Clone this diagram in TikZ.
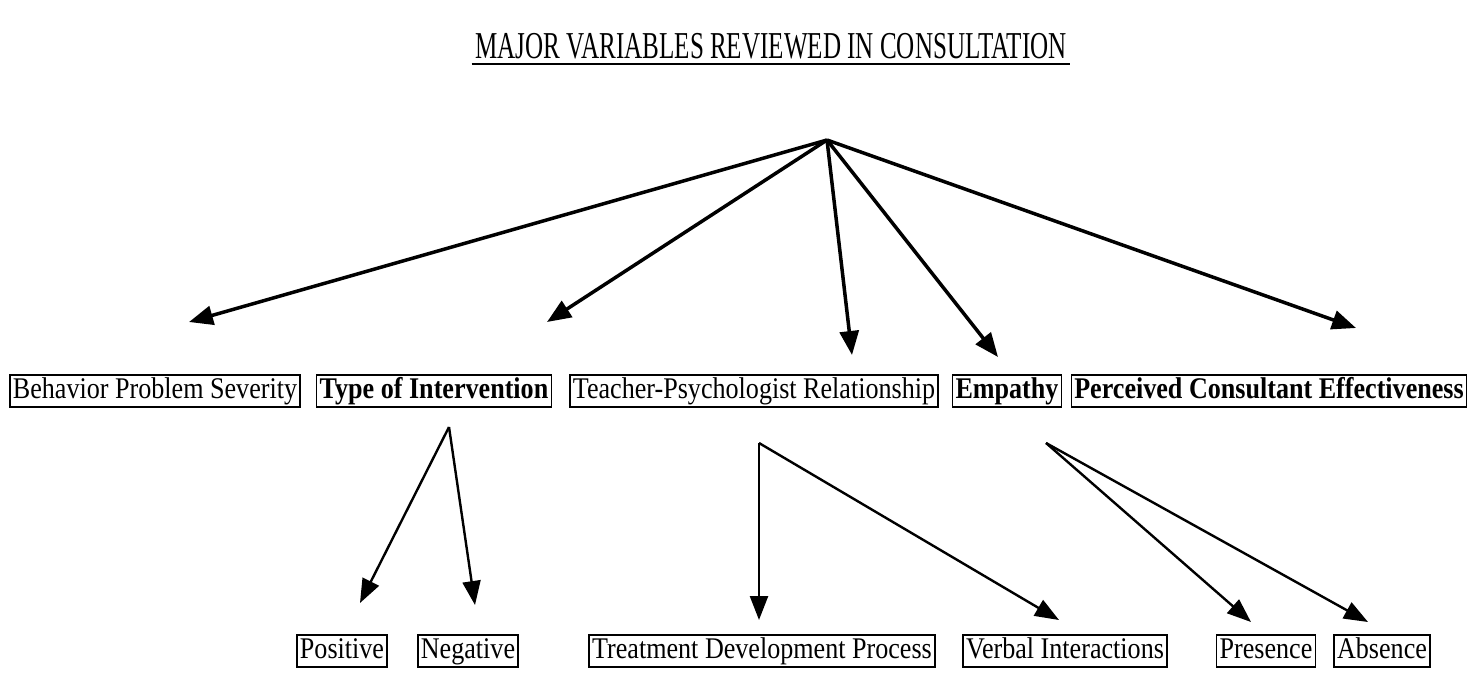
\documentclass[tikz,border=0pt]{standalone}
\usepackage{fontspec}
\setmainfont[FakeStretch=0.87]{Liberation Serif}
\newfontfamily\headfont[FakeStretch=0.66]{Liberation Serif}
\usetikzlibrary{arrows.meta}
\tikzset{
    every node/.style={align=center,},
    varbox/.style={draw,rectangle,line width=1.4pt,inner xsep=3pt,inner ysep=2pt,text height=21pt,text depth=7pt,font=\fontsize{30}{32}\selectfont,},
    keyvarbox/.style={varbox,font=\fontsize{30}{32}\selectfont\bfseries,},
    link/.style={line width=3.5pt,line join=round,-{Triangle[length=24pt,width=19pt]},},
    sublink/.style={line width=2.4pt,line join=round,-{Triangle[length=24pt,width=18pt]},},
}

\begin{document}
\begin{tikzpicture}[x=1pt,y=-1pt]
        \useasboundingbox (0,0) rectangle (1477,678);

        \node[font=\headfont\fontsize{38}{42}\selectfont] (title) at (771,46) {MAJOR VARIABLES REVIEWED IN CONSULTATION};
        \draw[line width=2pt] ([yshift=-6pt]title.base west) -- ([yshift=-6pt]title.base east);

        \coordinate (top) at (827,140);

        \node[varbox] (severity) at (155,391) {Behavior Problem Severity};
        \node[keyvarbox] (intervention) at (434,391) {Type of Intervention};
        \node[varbox] (relationship) at (754,391) {Teacher-Psychologist Relationship};
        \node[keyvarbox] (empathy) at (1007,391) {Empathy};
        \node[keyvarbox] (effectiveness) at (1269,391) {Perceived Consultant Effectiveness};

        \coordinate (severity_in) at (189,322);
        \coordinate (intervention_in) at (547,322);
        \coordinate (relationship_in) at (852,355);
        \coordinate (empathy_in) at (998,357);
        \coordinate (effectiveness_in) at (1356,328);

        \draw[link] (top) to (severity_in);
        \draw[link] (top) to (intervention_in);
        \draw[link] (top) to (relationship_in);
        \draw[link] (top) to (empathy_in);
        \draw[link] (top) to (effectiveness_in);

        \coordinate (intervention_out) at (449,427);
        \coordinate (relationship_out) at (759,443);
        \coordinate (empathy_out) at (1046,443);

        \node[varbox] (positive) at (342,651) {Positive};
        \node[varbox] (negative) at (468,651) {Negative};
        \node[varbox] (treatment) at (762,651) {Treatment Development Process};
        \node[varbox] (verbal) at (1065,651) {Verbal Interactions};
        \node[varbox] (presence) at (1266,651) {Presence};
        \node[varbox] (absence) at (1382,651) {Absence};

        \coordinate (positive_in) at (360,603);
        \coordinate (negative_in) at (475,605);
        \coordinate (treatment_in) at (759,620);
        \coordinate (verbal_in) at (1059,620);
        \coordinate (presence_in) at (1251,622);
        \coordinate (absence_in) at (1368,622);

        \draw[sublink] (intervention_out) to (positive_in);
        \draw[sublink] (intervention_out) to (negative_in);

        \draw[sublink] (relationship_out) to (treatment_in);
        \draw[sublink] (relationship_out) to (verbal_in);

        \draw[sublink] (empathy_out) to (presence_in);
        \draw[sublink] (empathy_out) to (absence_in);
    \end{tikzpicture}
\end{document}
